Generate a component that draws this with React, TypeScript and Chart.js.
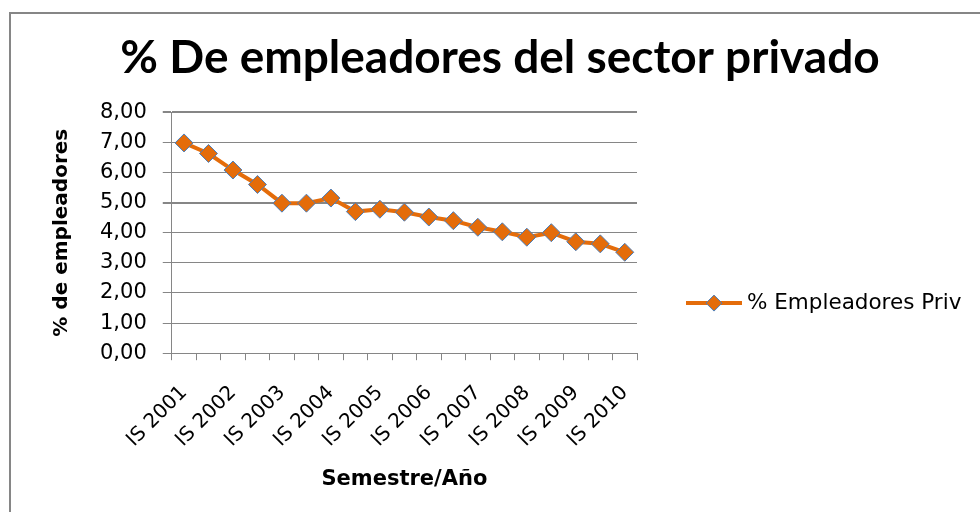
import React, { useEffect, useRef } from "react";
import { Chart, registerables } from "chart.js";

Chart.register(...registerables);

const chartTitle = "% De empleadores del sector privado";
const seriesName = "% Empleadores Priv";
const xTitle = "Semestre/Año";
const yTitle = "% de empleadores";

const categories = [
  "IS 2001", "IIS 2001",
  "IS 2002", "IIS 2002",
  "IS 2003", "IIS 2003",
  "IS 2004", "IIS 2004",
  "IS 2005", "IIS 2005",
  "IS 2006", "IIS 2006",
  "IS 2007", "IIS 2007",
  "IS 2008", "IIS 2008",
  "IS 2009", "IIS 2009",
  "IS 2010",
];

const values = [
  6.98, 6.63, 6.08, 5.6, 4.98, 4.98, 5.15, 4.7, 4.78, 4.68,
  4.52, 4.4, 4.18, 4.03, 3.85, 4.0, 3.7, 3.63, 3.35,
];

const yMin = 0;
const yMax = 8;
const yStep = 1;

const ORANGE = "#E46C0A";
const MARKER_BORDER = "#4A7EBB";
const GRID = "#868686";

const PAD = { left: 46, right: 26, top: 10, bottom: 18 };

function drawDiamond(g: CanvasRenderingContext2D, x: number, y: number, r: number) {
  g.beginPath();
  g.moveTo(x - r, y);
  g.lineTo(x, y - r);
  g.lineTo(x + r, y);
  g.lineTo(x, y + r);
  g.closePath();
  g.fillStyle = ORANGE;
  g.fill();
  g.lineWidth = 1;
  g.strokeStyle = MARKER_BORDER;
  g.stroke();
}

const sideLegend = {
  id: "sideLegend",
  afterDraw(chart: any) {
    const g: CanvasRenderingContext2D = chart.ctx;
    const area = chart.chartArea;
    const ds = chart.data.datasets[0];
    const x0 = area.right + 49;
    const y = (area.top + chart.height - PAD.bottom) / 2;
    g.save();
    g.strokeStyle = ORANGE;
    g.lineWidth = 4;
    g.beginPath();
    g.moveTo(x0, y);
    g.lineTo(x0 + 56, y);
    g.stroke();
    drawDiamond(g, x0 + 28, y, 8);
    g.fillStyle = "#000";
    g.font = "21.5px 'DejaVu Sans'";
    g.textAlign = "left";
    g.textBaseline = "middle";
    g.fillText(ds.label, x0 + 61, y);
    g.restore();
  },
};

export default function App() {
  const ref = useRef<HTMLCanvasElement | null>(null);

  useEffect(() => {
    if (!ref.current) return;
    const chart = new Chart(ref.current, {
      type: "line",
      data: {
        labels: categories,
        datasets: [
          {
            label: seriesName,
            data: values,
            borderColor: ORANGE,
            backgroundColor: ORANGE,
            borderWidth: 4,
            pointStyle: "rectRot",
            pointRadius: 9,
            pointBackgroundColor: ORANGE,
            pointBorderColor: MARKER_BORDER,
            pointBorderWidth: 1,
            tension: 0,
            yAxisID: "y",
          },
        ],
      },
      plugins: [sideLegend],
      options: {
        responsive: false,
        animation: false,
        layout: { padding: PAD },
        plugins: {
          tooltip: { enabled: false },
          legend: { display: false },
          title: {
            display: true,
            text: chartTitle,
            color: "#000",
            font: { family: "Lato", size: 46, weight: "bold" },
            padding: { top: 21, bottom: 26 },
          },
        },
        scales: {
          x: {
            offset: true,
            grid: {
              offset: true,
              display: true,
              drawOnChartArea: false,
              drawTicks: true,
              tickLength: 7,
              color: GRID,
            },
            border: { display: true, color: GRID, width: 1 },
            ticks: {
              autoSkip: false,
              minRotation: 45,
              maxRotation: 45,
              padding: 21,
              color: "#000",
              font: { family: "DejaVu Sans", size: 20 },
              callback: (_v: any, i: number) => (i % 2 === 0 ? categories[i] : ""),
            },
            title: {
              display: true,
              text: xTitle,
              color: "#000",
              font: { family: "DejaVu Sans", size: 21, weight: "bold" },
              padding: { top: -6, bottom: 2 },
            },
          },
          y: {
            position: "left",
            min: yMin,
            max: yMax,
            grid: {
              color: GRID,
              tickLength: 9,
              lineWidth: (ctx: any) => (ctx.tick && (ctx.tick.value === 8 || ctx.tick.value === 5) ? 2 : 1),
            },
            border: { display: true, color: GRID, width: 1 },
            ticks: {
              stepSize: yStep,
              padding: 16,
              color: "#000",
              font: { family: "DejaVu Sans", size: 21 },
              callback: (v: any) => Number(v).toFixed(2).replace(".", ","),
            },
            title: {
              display: true,
              text: yTitle,
              color: "#000",
              font: { family: "DejaVu Sans", size: 20, weight: "bold" },
              padding: { top: 4, bottom: 10 },
            },
          },
          legendSpace: {
            type: "linear",
            position: "right",
            display: true,
            grid: { display: false, drawTicks: false },
            border: { display: false },
            ticks: { display: false },
            afterFit: (scale: any) => {
              scale.width = 317;
            },
          },
        } as any,
      },
    });
    return () => chart.destroy();
  }, []);

  return (
    <div style={{ position: "fixed", left: 0, top: 0, width: 980, height: 512, background: "#fff", overflow: "hidden" }}>
      <div
        style={{
          position: "absolute",
          left: 9,
          top: 12,
          width: 2000,
          height: 2000,
          borderLeft: `2px solid ${GRID}`,
          borderTop: `2px solid ${GRID}`,
        }}
      />
      <canvas
        ref={ref}
        width={980}
        height={512}
        style={{ position: "absolute", left: 0, top: 0, width: 980, height: 512 }}
      />
    </div>
  );
}
